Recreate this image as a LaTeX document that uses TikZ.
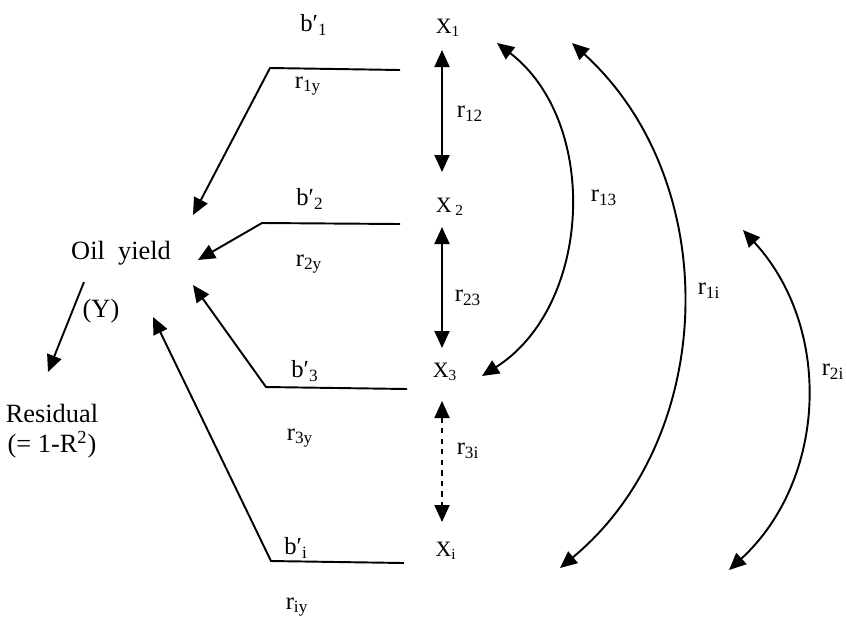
\documentclass[tikz,border=0pt]{standalone}
\usepackage{fontspec}
\setmainfont{Liberation Serif}
\usetikzlibrary{arrows.meta,positioning}
\begin{document}
\begin{tikzpicture}[
x=0.02cm, y=-0.02cm,
big/.style={font=\fontsize{15}{18}\selectfont, inner sep=1pt},
var/.style={font=\fontsize{12.5}{15}\selectfont, inner sep=1pt},
coef/.style={font=\fontsize{14}{16}\selectfont, inner sep=1pt},
cor/.style={font=\fontsize{14}{16}\selectfont, inner sep=1pt},
arr/.style={-{Triangle[length=3.4mm,width=3mm]}, line width=1.1pt},
dbl/.style={{Triangle[length=3.4mm,width=3mm]}-{Triangle[length=3.4mm,width=3mm]}, line width=1.1pt}
]
\useasboundingbox (0,0) rectangle (847,623);
% response and residual
\node[big] (oil) at (121,253) {Oil~~yield};
\node[big] (ylab) at (101,311) {(Y)};
\node[big] (res) at (52,413) {Residual};
\node[big] (rsq) at (52,445) {(= 1-R\textsuperscript{2})};
% predictors
\node[var] (X1) at (448,28) {X\textsubscript{1}};
\node[var] (X2) at (450,207) {X\,\textsubscript{2}};
\node[var] (X3) at (445,372) {X\textsubscript{3}};
\node[var] (Xi) at (446,551) {X\textsubscript{i}};
% path coefficients
\node[coef] (b1) at (314,25) {b′\textsubscript{1}};
\node[coef] (b2) at (310,199) {b′\textsubscript{2}};
\node[coef] (b3) at (305,371) {b′\textsubscript{3}};
\node[coef] (bi) at (296,548) {b′\textsubscript{i}};
% correlations with Y
\node[cor] (r1y) at (308,86) {r\textsubscript{1y}};
\node[cor] (r2y) at (309,264) {r\textsubscript{2y}};
\node[cor] (r3y) at (300,438) {r\textsubscript{3y}};
\node[cor] (riy) at (297,607) {r\textsubscript{iy}};
% correlations among X
\node[cor] (r12) at (470,114) {r\textsubscript{12}};
\node[cor] (r23) at (468,298) {r\textsubscript{23}};
\node[cor] (r3i) at (468,451) {r\textsubscript{3i}};
\node[cor] (r13) at (604,198) {r\textsubscript{13}};
\node[cor] (r1i) at (709,291) {r\textsubscript{1i}};
\node[cor] (r2i) at (833,372) {r\textsubscript{2i}};
% line ends
\coordinate (s1) at (400,70);  \coordinate (k1) at (270,68);  \coordinate (t1) at (193,215);
\coordinate (s2) at (400,224); \coordinate (k2) at (262,223); \coordinate (t2) at (198,260);
\coordinate (s3) at (407,389); \coordinate (k3) at (266,387); \coordinate (t3) at (193,285);
\coordinate (s4) at (404,563); \coordinate (k4) at (271,561); \coordinate (t4) at (153,317);
\coordinate (y0) at (84,282);  \coordinate (y1) at (48,372);
\coordinate (v1) at (442,50);  \coordinate (v2) at (442,172);
\coordinate (v3) at (442,227); \coordinate (v4) at (442,348);
\coordinate (v5) at (442,401); \coordinate (v6) at (442,522);
\coordinate (c1) at (497,43);  \coordinate (c2) at (482,376);
\coordinate (c3) at (572,43);  \coordinate (c4) at (560,568);
\coordinate (c5) at (743,230); \coordinate (c6) at (729,570);
% paths to Y
\draw[arr] (s1) -- (k1) -- (t1);
\draw[arr] (s2) -- (k2) -- (t2);
\draw[arr] (s3) -- (k3) -- (t3);
\draw[arr] (s4) -- (k4) -- (t4);
\draw[arr] (y0) -- (y1);
% correlations
\draw[dbl] (v1) -- (v2);
\draw[dbl] (v3) -- (v4);
\draw[dbl, dashed] (v5) -- (v6);
\draw[dbl] (c1) to[bend left=55] (c2);
\draw[dbl] (c3) to[bend left=49] (c4);
\draw[dbl] (c5) to[bend left=45] (c6);
\end{tikzpicture}
\end{document}
